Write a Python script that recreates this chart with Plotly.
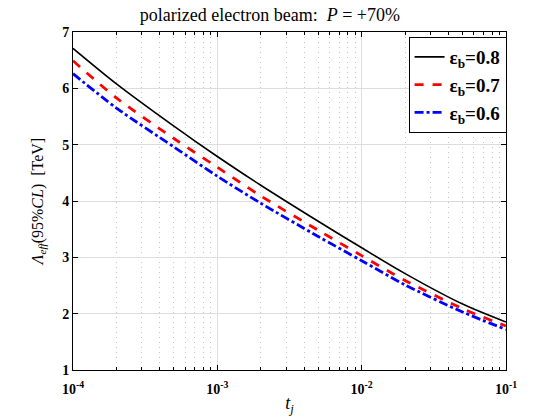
import plotly.graph_objects as go

t_vals = [1e-4, 2e-4, 5e-4, 1e-3, 2e-3, 5e-3, 1e-2, 2e-2, 5e-2, 1e-1]
lam_eb08 = [6.71, 6.08, 5.33, 4.79, 4.28, 3.64, 3.17, 2.71, 2.17, 1.85]
lam_eb07 = [6.49, 5.83, 5.11, 4.60, 4.09, 3.48, 3.03, 2.59, 2.09, 1.78]
lam_eb06 = [6.26, 5.65, 4.96, 4.44, 3.96, 3.37, 2.94, 2.51, 2.03, 1.72]
series_names = ["<b>ε<sub>b</sub>=0.8</b>", "<b>ε<sub>b</sub>=0.7</b>", "<b>ε<sub>b</sub>=0.6</b>"]

x_tickvals = [1e-4, 1e-3, 1e-2, 1e-1]
x_ticktext = ["<b>10<sup>-4</sup></b>", "<b>10<sup>-3</sup></b>", "<b>10<sup>-2</sup></b>", "<b>10<sup>-1</sup></b>"]
y_tickvals = [1, 2, 3, 4, 5, 6, 7]
y_ticktext = ["<b>%d</b>" % v for v in y_tickvals]
minor_vals = [m * 10.0 ** e for e in (-4, -3, -2) for m in range(2, 10)]

fig = go.Figure()
fig.add_trace(go.Scatter(x=t_vals, y=lam_eb08, mode="lines", name=series_names[0],
                         line=dict(color="black", width=1.6, dash="solid", shape="spline", smoothing=0.8)))
fig.add_trace(go.Scatter(x=t_vals, y=lam_eb07, mode="lines", name=series_names[1],
                         line=dict(color="red", width=2.8, dash="dash", shape="spline", smoothing=0.8)))
fig.add_trace(go.Scatter(x=t_vals, y=lam_eb06, mode="lines", name=series_names[2],
                         line=dict(color="blue", width=2.8, dash="dashdot", shape="spline", smoothing=0.8)))

font_serif = "Liberation Serif"
fig.update_layout(
    width=560, height=420,
    margin=dict(l=73, r=54, t=32, b=50),
    paper_bgcolor="white", plot_bgcolor="white",
    title=dict(text="polarized electron beam:  <i>P</i> = +70%", x=0.482, xanchor="center",
               y=0.965, yanchor="middle", font=dict(family=font_serif, size=18, color="black")),
    showlegend=True,
    legend=dict(x=0.775, y=0.985, xanchor="left", yanchor="top",
                bordercolor="black", borderwidth=1, bgcolor="white",
                font=dict(family=font_serif, size=19, color="black"),
                itemwidth=30),
    xaxis=dict(type="log", range=[-4, -1], tickmode="array", tickvals=x_tickvals, ticktext=x_ticktext,
               showline=True, linecolor="black", linewidth=1, mirror="allticks",
               ticks="inside", ticklen=5, tickcolor="black", ticklabelstandoff=6,
               showgrid=True, gridcolor="#dedede", gridwidth=1,
               tickfont=dict(family=font_serif, size=14, color="black"),
               minor=dict(tickmode="array", tickvals=minor_vals, ticks="inside", ticklen=3,
                          tickcolor="black", showgrid=True, gridcolor="#c4c4c4", griddash="1px,4px"),
               title=dict(text="<i>t<sub>j</sub></i>", font=dict(family=font_serif, size=18, color="black"),
                          standoff=0),
               zeroline=False),
    yaxis=dict(range=[1, 7], tickmode="array", tickvals=y_tickvals, ticktext=y_ticktext,
               showline=True, linecolor="black", linewidth=1, mirror="allticks",
               ticks="inside", ticklen=5, tickcolor="black",
               showgrid=True, gridcolor="#dedede", gridwidth=1,
               tickfont=dict(family=font_serif, size=14, color="black"),
               title=dict(text="<i>Λ<sub>eff</sub></i>(95%<i>CL</i>)  [TeV]",
                          font=dict(family=font_serif, size=16, color="black"), standoff=14),
               zeroline=False),
)

fig.write_html("out.html")
